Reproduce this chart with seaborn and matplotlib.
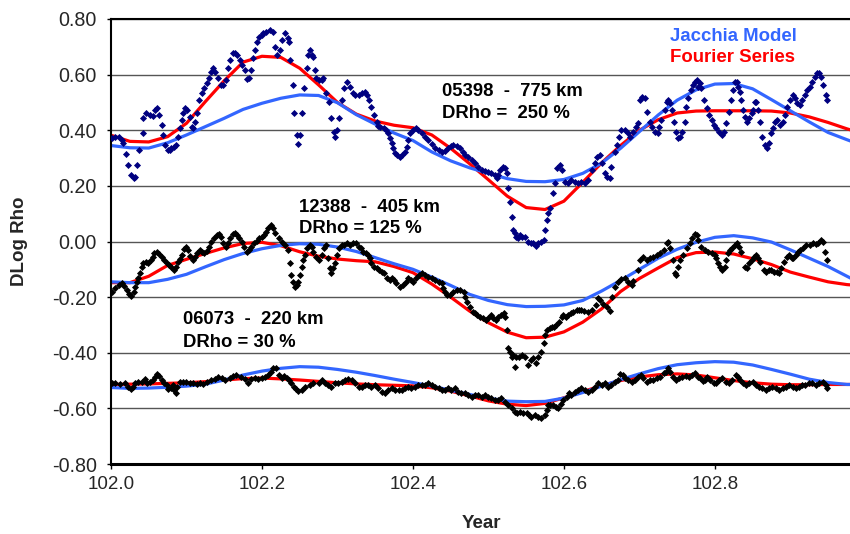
import matplotlib
matplotlib.use("Agg")
import matplotlib.pyplot as plt
import seaborn as sns

# ---------------- data ----------------
CURVE_YEAR = [102.000, 102.025, 102.050, 102.075, 102.100, 102.125, 102.150, 102.175, 102.200, 102.225,
              102.250, 102.275, 102.300, 102.325, 102.350, 102.375, 102.400, 102.425, 102.450, 102.475,
              102.500, 102.525, 102.550, 102.575, 102.600, 102.625, 102.650, 102.675, 102.700, 102.725,
              102.750, 102.775, 102.800, 102.825, 102.850, 102.875, 102.900, 102.925, 102.950, 102.975, 102.980]

TOP_JACCHIA = [0.345, 0.337, 0.336, 0.355, 0.383, 0.413, 0.443, 0.475, 0.497, 0.515,
               0.527, 0.525, 0.499, 0.456, 0.422, 0.390, 0.363, 0.322, 0.290, 0.265,
               0.245, 0.226, 0.216, 0.215, 0.223, 0.245, 0.282, 0.335, 0.395, 0.455,
               0.508, 0.545, 0.566, 0.568, 0.549, 0.510, 0.470, 0.430, 0.392, 0.366, 0.361]
TOP_FOURIER = [0.382, 0.360, 0.358, 0.377, 0.425, 0.503, 0.578, 0.645, 0.666, 0.662,
               0.623, 0.563, 0.500, 0.458, 0.433, 0.418, 0.409, 0.383, 0.335, 0.280,
               0.222, 0.163, 0.122, 0.115, 0.145, 0.213, 0.283, 0.345, 0.400, 0.438,
               0.462, 0.469, 0.470, 0.470, 0.470, 0.469, 0.462, 0.448, 0.428, 0.405, 0.401]

MID_JACCHIA = [-0.145, -0.148, -0.148, -0.136, -0.118, -0.091, -0.065, -0.043, -0.026, -0.014,
               -0.008, -0.010, -0.020, -0.036, -0.058, -0.080, -0.100, -0.128, -0.158, -0.190,
               -0.212, -0.227, -0.234, -0.233, -0.228, -0.212, -0.178, -0.140, -0.100, -0.060,
               -0.028, -0.003, 0.015, 0.021, 0.013, -0.002, -0.030, -0.060, -0.090, -0.125, -0.132]
MID_FOURIER = [-0.148, -0.148, -0.125, -0.086, -0.064, -0.043, -0.023, -0.007, -0.003, -0.015,
               -0.037, -0.053, -0.063, -0.069, -0.073, -0.090, -0.112, -0.153, -0.200, -0.250,
               -0.292, -0.326, -0.346, -0.344, -0.325, -0.290, -0.242, -0.180, -0.133, -0.095,
               -0.058, -0.040, -0.038, -0.045, -0.062, -0.083, -0.110, -0.128, -0.145, -0.155, -0.156]

BOT_JACCHIA = [-0.525, -0.528, -0.527, -0.524, -0.520, -0.513, -0.498, -0.480, -0.466, -0.456,
               -0.450, -0.452, -0.460, -0.470, -0.482, -0.495, -0.507, -0.520, -0.535, -0.550,
               -0.563, -0.574, -0.576, -0.575, -0.563, -0.543, -0.520, -0.497, -0.476, -0.457,
               -0.443, -0.436, -0.432, -0.434, -0.444, -0.460, -0.477, -0.495, -0.507, -0.514, -0.514]
BOT_FOURIER = [-0.514, -0.513, -0.512, -0.510, -0.508, -0.504, -0.498, -0.493, -0.491, -0.494,
               -0.498, -0.503, -0.508, -0.512, -0.515, -0.517, -0.519, -0.526, -0.538, -0.555,
               -0.573, -0.585, -0.590, -0.582, -0.562, -0.540, -0.518, -0.500, -0.487, -0.479,
               -0.476, -0.480, -0.490, -0.500, -0.508, -0.513, -0.515, -0.515, -0.514, -0.514, -0.514]

# 05398 - 775 km
TOP_YEAR = [102.001, 102.005, 102.010, 102.014, 102.016, 102.020, 102.023, 102.027, 102.030, 102.032,
            102.034, 102.037, 102.042, 102.043, 102.047, 102.052, 102.055, 102.058, 102.061, 102.064,
            102.067, 102.069, 102.072, 102.076, 102.078, 102.080, 102.083, 102.086, 102.089, 102.091,
            102.094, 102.096, 102.098, 102.101, 102.105, 102.107, 102.109, 102.111, 102.114, 102.117,
            102.120, 102.123, 102.127, 102.130, 102.132, 102.135, 102.138, 102.142, 102.146, 102.149,
            102.152, 102.155, 102.158, 102.161, 102.164, 102.167, 102.171, 102.174, 102.177, 102.180,
            102.183, 102.185, 102.188, 102.191, 102.193, 102.196, 102.200, 102.202, 102.206, 102.211,
            102.214, 102.217, 102.220, 102.224, 102.227, 102.230, 102.234, 102.236, 102.237, 102.241,
            102.242, 102.246, 102.248, 102.250, 102.253, 102.256, 102.259, 102.261, 102.264, 102.266,
            102.268, 102.270, 102.272, 102.276, 102.279, 102.281, 102.285, 102.289, 102.292, 102.295,
            102.297, 102.299, 102.302, 102.306, 102.309, 102.312, 102.317, 102.320, 102.323, 102.328,
            102.332, 102.336, 102.339, 102.342, 102.345, 102.349, 102.352, 102.354, 102.357, 102.361,
            102.364, 102.367, 102.370, 102.372, 102.374, 102.376, 102.379, 102.383, 102.386, 102.389,
            102.392, 102.394, 102.396, 102.400, 102.404, 102.407, 102.412, 102.416, 102.420, 102.425,
            102.429, 102.434, 102.438, 102.442, 102.447, 102.450, 102.453, 102.458, 102.462, 102.466,
            102.469, 102.473, 102.478, 102.482, 102.486, 102.491, 102.495, 102.500, 102.504, 102.509,
            102.511, 102.513, 102.515, 102.519, 102.522, 102.524, 102.526, 102.528, 102.531, 102.533,
            102.535, 102.537, 102.539, 102.542, 102.545, 102.548, 102.553, 102.556, 102.559, 102.563,
            102.566, 102.569, 102.573, 102.575, 102.577, 102.579, 102.581, 102.585, 102.588, 102.591,
            102.595, 102.597, 102.601, 102.606, 102.610, 102.615, 102.619, 102.623, 102.628, 102.632,
            102.637, 102.641, 102.644, 102.648, 102.651, 102.654, 102.657, 102.661, 102.663, 102.668,
            102.670, 102.673, 102.676, 102.681, 102.685, 102.688, 102.692, 102.695, 102.698, 102.701,
            102.704, 102.707, 102.710, 102.714, 102.717, 102.721, 102.724, 102.726, 102.729, 102.734,
            102.736, 102.738, 102.740, 102.743, 102.746, 102.749, 102.751, 102.754, 102.757, 102.760,
            102.762, 102.765, 102.768, 102.771, 102.774, 102.776, 102.778, 102.780, 102.782, 102.785,
            102.789, 102.792, 102.796, 102.799, 102.802, 102.806, 102.809, 102.812, 102.815, 102.819,
            102.822, 102.824, 102.826, 102.829, 102.831, 102.833, 102.835, 102.837, 102.840, 102.842,
            102.845, 102.849, 102.851, 102.853, 102.855, 102.857, 102.860, 102.863, 102.866, 102.869,
            102.872, 102.875, 102.877, 102.879, 102.882, 102.886, 102.890, 102.893, 102.896, 102.899,
            102.903, 102.906, 102.909, 102.913, 102.916, 102.919, 102.922, 102.926, 102.929, 102.932,
            102.935, 102.938, 102.940, 102.943, 102.947, 102.948]
TOP_VAL = [0.371, 0.377, 0.377, 0.365, 0.353, 0.315, 0.275, 0.239, 0.227, 0.233,
           0.275, 0.329, 0.389, 0.443, 0.461, 0.455, 0.451, 0.473, 0.479, 0.455,
           0.419, 0.383, 0.347, 0.329, 0.329, 0.335, 0.341, 0.347, 0.377, 0.407,
           0.437, 0.461, 0.479, 0.473, 0.449, 0.413, 0.407, 0.431, 0.461, 0.509,
           0.533, 0.551, 0.569, 0.587, 0.611, 0.623, 0.611, 0.587, 0.563, 0.563,
           0.581, 0.623, 0.653, 0.677, 0.677, 0.671, 0.653, 0.635, 0.617, 0.583,
           0.587, 0.617, 0.659, 0.689, 0.719, 0.737, 0.743, 0.749, 0.755, 0.761,
           0.755, 0.701, 0.671, 0.689, 0.725, 0.749, 0.731, 0.719, 0.653, 0.563,
           0.461, 0.383, 0.351, 0.383, 0.461, 0.551, 0.623, 0.671, 0.689, 0.671,
           0.665, 0.617, 0.587, 0.581, 0.581, 0.587, 0.533, 0.503, 0.443, 0.395,
           0.377, 0.401, 0.443, 0.509, 0.551, 0.575, 0.557, 0.533, 0.527, 0.527,
           0.533, 0.539, 0.527, 0.509, 0.485, 0.455, 0.431, 0.415, 0.413, 0.407,
           0.401, 0.389, 0.371, 0.353, 0.335, 0.317, 0.311, 0.305, 0.311, 0.323,
           0.341, 0.365, 0.389, 0.401, 0.407, 0.401, 0.389, 0.377, 0.365, 0.351,
           0.335, 0.329, 0.323, 0.327, 0.335, 0.344, 0.347, 0.344, 0.335, 0.323,
           0.311, 0.305, 0.293, 0.281, 0.269, 0.257, 0.255, 0.251, 0.247, 0.239,
           0.227, 0.239, 0.257, 0.267, 0.263, 0.245, 0.191, 0.143, 0.089, 0.041,
           0.029, 0.017, 0.012, 0.023, 0.017, 0.015, -0.001, -0.006, -0.006, -0.016,
           -0.006, -0.001, 0.005, 0.041, 0.077, 0.101, 0.119, 0.173, 0.209, 0.263,
           0.275, 0.257, 0.215, 0.209, 0.221, 0.215, 0.212, 0.215, 0.212, 0.221,
           0.257, 0.281, 0.305, 0.311, 0.281, 0.245, 0.233, 0.227, 0.269, 0.323,
           0.347, 0.377, 0.401, 0.401, 0.389, 0.377, 0.395, 0.413, 0.425, 0.509,
           0.521, 0.515, 0.467, 0.431, 0.413, 0.395, 0.389, 0.413, 0.437, 0.473,
           0.503, 0.509, 0.497, 0.473, 0.431, 0.395, 0.371, 0.377, 0.395, 0.431,
           0.485, 0.515, 0.545, 0.563, 0.575, 0.581, 0.557, 0.569, 0.551, 0.509,
           0.479, 0.455, 0.437, 0.419, 0.407, 0.395, 0.383, 0.395, 0.425, 0.467,
           0.509, 0.545, 0.575, 0.575, 0.557, 0.539, 0.509, 0.473, 0.449, 0.431,
           0.443, 0.461, 0.473, 0.503, 0.503, 0.473, 0.431, 0.377, 0.347, 0.335,
           0.353, 0.389, 0.407, 0.431, 0.437, 0.419, 0.431, 0.455, 0.485, 0.509,
           0.527, 0.515, 0.497, 0.491, 0.509, 0.527, 0.545, 0.557, 0.575, 0.593,
           0.605, 0.607, 0.593, 0.563, 0.527, 0.509]

# 12388 - 405 km
MID_YEAR = [102.001, 102.005, 102.010, 102.014, 102.017, 102.021, 102.024, 102.027, 102.030, 102.032,
            102.034, 102.036, 102.038, 102.041, 102.043, 102.046, 102.049, 102.053, 102.055, 102.057,
            102.061, 102.064, 102.067, 102.070, 102.074, 102.077, 102.080, 102.083, 102.086, 102.089,
            102.091, 102.094, 102.097, 102.099, 102.102, 102.105, 102.108, 102.111, 102.114, 102.118,
            102.120, 102.123, 102.127, 102.130, 102.133, 102.136, 102.140, 102.143, 102.146, 102.149,
            102.152, 102.155, 102.158, 102.161, 102.164, 102.167, 102.170, 102.173, 102.176, 102.180,
            102.183, 102.186, 102.189, 102.193, 102.196, 102.200, 102.203, 102.206, 102.208, 102.212,
            102.215, 102.217, 102.222, 102.226, 102.230, 102.235, 102.237, 102.239, 102.241, 102.244,
            102.246, 102.248, 102.250, 102.253, 102.255, 102.257, 102.259, 102.263, 102.266, 102.268,
            102.272, 102.275, 102.279, 102.282, 102.285, 102.288, 102.290, 102.292, 102.294, 102.297,
            102.300, 102.302, 102.306, 102.309, 102.312, 102.317, 102.321, 102.325, 102.328, 102.331,
            102.334, 102.338, 102.341, 102.343, 102.345, 102.348, 102.352, 102.355, 102.359, 102.362,
            102.365, 102.369, 102.372, 102.375, 102.378, 102.383, 102.387, 102.391, 102.394, 102.397,
            102.400, 102.404, 102.408, 102.412, 102.416, 102.420, 102.425, 102.429, 102.434, 102.438,
            102.440, 102.442, 102.445, 102.449, 102.453, 102.458, 102.462, 102.467, 102.469, 102.472,
            102.475, 102.479, 102.482, 102.485, 102.489, 102.493, 102.497, 102.500, 102.503, 102.506,
            102.510, 102.513, 102.516, 102.520, 102.522, 102.524, 102.526, 102.528, 102.531, 102.533,
            102.535, 102.537, 102.541, 102.544, 102.548, 102.553, 102.556, 102.559, 102.563, 102.566,
            102.569, 102.573, 102.575, 102.577, 102.581, 102.584, 102.587, 102.590, 102.594, 102.597,
            102.599, 102.603, 102.606, 102.609, 102.612, 102.617, 102.620, 102.623, 102.627, 102.632,
            102.637, 102.643, 102.645, 102.648, 102.652, 102.657, 102.661, 102.664, 102.668, 102.672,
            102.676, 102.681, 102.685, 102.690, 102.692, 102.698, 102.701, 102.705, 102.710, 102.714,
            102.718, 102.723, 102.727, 102.732, 102.736, 102.738, 102.740, 102.745, 102.747, 102.749,
            102.751, 102.754, 102.758, 102.763, 102.767, 102.770, 102.774, 102.776, 102.778, 102.782,
            102.787, 102.791, 102.796, 102.800, 102.802, 102.804, 102.807, 102.810, 102.813, 102.815,
            102.818, 102.820, 102.823, 102.826, 102.829, 102.832, 102.835, 102.840, 102.842, 102.845,
            102.849, 102.852, 102.854, 102.857, 102.860, 102.865, 102.868, 102.872, 102.875, 102.878,
            102.882, 102.885, 102.888, 102.891, 102.895, 102.898, 102.902, 102.904, 102.907, 102.910,
            102.913, 102.917, 102.921, 102.926, 102.930, 102.934, 102.937, 102.940, 102.943, 102.946,
            102.949]
MID_VAL = [-0.180, -0.168, -0.156, -0.150, -0.160, -0.174, -0.189, -0.196, -0.180, -0.163,
           -0.145, -0.133, -0.114, -0.090, -0.079, -0.073, -0.079, -0.066, -0.054, -0.043,
           -0.039, -0.046, -0.057, -0.066, -0.076, -0.085, -0.090, -0.102, -0.090, -0.073,
           -0.064, -0.049, -0.028, -0.021, -0.031, -0.052, -0.066, -0.057, -0.043, -0.031,
           -0.037, -0.043, -0.033, -0.019, -0.001, 0.011, 0.023, 0.027, 0.017, -0.006,
           -0.019, -0.006, 0.011, 0.027, 0.032, 0.023, 0.011, -0.001, -0.019, -0.036,
           -0.031, -0.019, -0.004, 0.003, 0.011, 0.017, 0.023, 0.035, 0.047, 0.059,
           0.047, 0.029, 0.012, -0.001, -0.013, -0.031, -0.078, -0.120, -0.145, -0.163,
           -0.156, -0.145, -0.120, -0.091, -0.067, -0.049, -0.024, -0.013, -0.019, -0.037,
           -0.055, -0.067, -0.049, -0.024, -0.013, -0.061, -0.097, -0.114, -0.097, -0.078,
           -0.049, -0.024, -0.013, -0.013, -0.007, -0.013, -0.007, -0.007, -0.019, -0.024,
           -0.037, -0.043, -0.049, -0.061, -0.078, -0.091, -0.097, -0.103, -0.109, -0.114,
           -0.132, -0.138, -0.132, -0.138, -0.150, -0.163, -0.156, -0.144, -0.133, -0.139,
           -0.144, -0.133, -0.120, -0.114, -0.120, -0.126, -0.133, -0.139, -0.144, -0.150,
           -0.168, -0.180, -0.192, -0.192, -0.180, -0.174, -0.174, -0.180, -0.198, -0.216,
           -0.234, -0.252, -0.258, -0.264, -0.270, -0.276, -0.282, -0.276, -0.264, -0.276,
           -0.282, -0.270, -0.264, -0.258, -0.270, -0.318, -0.384, -0.396, -0.414, -0.408,
           -0.450, -0.414, -0.414, -0.408, -0.414, -0.444, -0.426, -0.420, -0.438, -0.414,
           -0.396, -0.366, -0.336, -0.318, -0.312, -0.306, -0.306, -0.300, -0.288, -0.270,
           -0.264, -0.270, -0.264, -0.258, -0.252, -0.246, -0.246, -0.246, -0.250, -0.252,
           -0.246, -0.228, -0.204, -0.212, -0.224, -0.234, -0.250, -0.200, -0.165, -0.146,
           -0.136, -0.132, -0.145, -0.158, -0.142, -0.102, -0.066, -0.054, -0.066, -0.060,
           -0.054, -0.049, -0.043, -0.031, -0.006, 0.000, -0.025, -0.066, -0.114, -0.120,
           -0.090, -0.066, -0.049, -0.025, -0.006, 0.011, 0.027, 0.023, 0.005, -0.019,
           -0.031, -0.037, -0.043, -0.049, -0.061, -0.079, -0.090, -0.102, -0.090, -0.066,
           -0.043, -0.031, -0.025, -0.013, -0.006, -0.019, -0.037, -0.090, -0.096, -0.079,
           -0.066, -0.054, -0.049, -0.061, -0.072, -0.102, -0.108, -0.102, -0.102, -0.108,
           -0.108, -0.114, -0.096, -0.072, -0.054, -0.049, -0.061, -0.061, -0.049, -0.037,
           -0.031, -0.025, -0.013, -0.013, -0.006, -0.008, -0.006, 0.005, 0.000, -0.037,
           -0.066]

# 06073 - 220 km
BOT_YEAR = [102.001, 102.005, 102.012, 102.019, 102.023, 102.026, 102.029, 102.032, 102.036, 102.041,
            102.045, 102.048, 102.052, 102.055, 102.058, 102.061, 102.064, 102.067, 102.070, 102.074,
            102.076, 102.079, 102.082, 102.083, 102.086, 102.088, 102.091, 102.096, 102.100, 102.105,
            102.109, 102.114, 102.118, 102.122, 102.127, 102.132, 102.138, 102.142, 102.147, 102.151,
            102.158, 102.162, 102.166, 102.172, 102.177, 102.182, 102.186, 102.191, 102.195, 102.200,
            102.204, 102.208, 102.212, 102.215, 102.219, 102.222, 102.226, 102.229, 102.233, 102.236,
            102.239, 102.242, 102.245, 102.248, 102.253, 102.257, 102.264, 102.268, 102.275, 102.279,
            102.283, 102.288, 102.292, 102.297, 102.301, 102.306, 102.310, 102.314, 102.319, 102.323,
            102.328, 102.332, 102.336, 102.341, 102.345, 102.350, 102.354, 102.359, 102.363, 102.367,
            102.372, 102.376, 102.381, 102.385, 102.389, 102.394, 102.398, 102.403, 102.407, 102.412,
            102.416, 102.420, 102.425, 102.429, 102.434, 102.438, 102.442, 102.447, 102.451, 102.456,
            102.460, 102.464, 102.469, 102.473, 102.478, 102.482, 102.486, 102.491, 102.495, 102.500,
            102.504, 102.509, 102.513, 102.517, 102.522, 102.526, 102.531, 102.535, 102.538, 102.542,
            102.546, 102.551, 102.554, 102.557, 102.562, 102.566, 102.570, 102.575, 102.577, 102.579,
            102.582, 102.586, 102.589, 102.592, 102.596, 102.599, 102.604, 102.607, 102.610, 102.615,
            102.619, 102.623, 102.628, 102.632, 102.637, 102.641, 102.645, 102.650, 102.654, 102.659,
            102.663, 102.668, 102.672, 102.674, 102.678, 102.681, 102.685, 102.690, 102.694, 102.698,
            102.702, 102.705, 102.710, 102.714, 102.718, 102.723, 102.727, 102.732, 102.735, 102.738,
            102.741, 102.745, 102.748, 102.753, 102.757, 102.762, 102.766, 102.770, 102.774, 102.777,
            102.780, 102.784, 102.787, 102.790, 102.794, 102.799, 102.802, 102.806, 102.810, 102.815,
            102.819, 102.823, 102.828, 102.831, 102.833, 102.837, 102.841, 102.845, 102.850, 102.854,
            102.859, 102.863, 102.868, 102.872, 102.876, 102.881, 102.885, 102.890, 102.894, 102.898,
            102.903, 102.907, 102.912, 102.916, 102.920, 102.925, 102.929, 102.934, 102.938, 102.943,
            102.947, 102.949]
BOT_VAL = [-0.510, -0.508, -0.513, -0.510, -0.522, -0.532, -0.522, -0.510, -0.504, -0.504,
           -0.496, -0.508, -0.504, -0.498, -0.486, -0.477, -0.484, -0.498, -0.510, -0.516,
           -0.532, -0.528, -0.516, -0.534, -0.546, -0.522, -0.504, -0.504, -0.504, -0.510,
           -0.510, -0.513, -0.510, -0.513, -0.504, -0.498, -0.496, -0.486, -0.492, -0.498,
           -0.492, -0.484, -0.480, -0.486, -0.496, -0.510, -0.496, -0.492, -0.496, -0.492,
           -0.486, -0.480, -0.468, -0.456, -0.456, -0.480, -0.492, -0.484, -0.492, -0.498,
           -0.510, -0.522, -0.532, -0.538, -0.534, -0.522, -0.516, -0.510, -0.508, -0.498,
           -0.508, -0.516, -0.522, -0.510, -0.510, -0.504, -0.498, -0.496, -0.498, -0.510,
           -0.522, -0.522, -0.516, -0.516, -0.522, -0.516, -0.528, -0.540, -0.546, -0.534,
           -0.528, -0.534, -0.534, -0.534, -0.528, -0.522, -0.528, -0.522, -0.516, -0.516,
           -0.516, -0.510, -0.516, -0.522, -0.528, -0.534, -0.534, -0.528, -0.534, -0.528,
           -0.540, -0.546, -0.546, -0.552, -0.558, -0.552, -0.552, -0.558, -0.552, -0.558,
           -0.564, -0.570, -0.570, -0.564, -0.576, -0.588, -0.600, -0.612, -0.618, -0.612,
           -0.615, -0.618, -0.624, -0.630, -0.624, -0.630, -0.636, -0.624, -0.606, -0.588,
           -0.588, -0.588, -0.594, -0.600, -0.585, -0.570, -0.558, -0.546, -0.552, -0.540,
           -0.534, -0.528, -0.534, -0.540, -0.534, -0.522, -0.510, -0.516, -0.510, -0.522,
           -0.516, -0.504, -0.498, -0.477, -0.480, -0.492, -0.498, -0.504, -0.498, -0.486,
           -0.480, -0.492, -0.504, -0.498, -0.498, -0.492, -0.486, -0.474, -0.468, -0.456,
           -0.468, -0.486, -0.498, -0.492, -0.486, -0.484, -0.486, -0.480, -0.474, -0.486,
           -0.492, -0.500, -0.498, -0.486, -0.498, -0.510, -0.510, -0.498, -0.492, -0.504,
           -0.510, -0.498, -0.480, -0.486, -0.498, -0.510, -0.516, -0.510, -0.504, -0.516,
           -0.522, -0.528, -0.534, -0.528, -0.522, -0.528, -0.534, -0.528, -0.522, -0.516,
           -0.522, -0.528, -0.522, -0.516, -0.516, -0.510, -0.510, -0.516, -0.510, -0.504,
           -0.516, -0.528]

Y_TICKS = [-0.8, -0.6, -0.4, -0.2, 0.0, 0.2, 0.4, 0.6, 0.8]
X_TICKS = [102.0, 102.2, 102.4, 102.6, 102.8]

# ---------------- style ----------------
sns.set_style("white")
plt.rcParams['font.family'] = ['Liberation Sans', 'DejaVu Sans']
plt.rcParams['axes.unicode_minus'] = False

BLUE = '#3366FF'
RED = '#FF0000'
NAVY = '#000080'

fig = plt.figure(figsize=(8.5, 5.34), dpi=100)
ax = fig.add_axes([111 / 850, 70 / 534, 739 / 850, 445 / 534])

for four in (TOP_FOURIER, MID_FOURIER, BOT_FOURIER):
    sns.lineplot(x=CURVE_YEAR, y=four, color=RED, linewidth=2.3, ax=ax,
                 estimator=None, sort=False, legend=False, zorder=2,
                 solid_joinstyle='round', solid_capstyle='round')
for jac in (TOP_JACCHIA, MID_JACCHIA, BOT_JACCHIA):
    sns.lineplot(x=CURVE_YEAR, y=jac, color=BLUE, linewidth=2.3, ax=ax,
                 estimator=None, sort=False, legend=False, zorder=2,
                 solid_joinstyle='round', solid_capstyle='round')

for xs, ys, col in ((TOP_YEAR, TOP_VAL, NAVY), (MID_YEAR, MID_VAL, 'black'),
                    (BOT_YEAR, BOT_VAL, 'black')):
    sns.scatterplot(x=xs, y=ys, marker='D', s=13, color=col, linewidth=0,
                    ax=ax, legend=False, zorder=3)

ax.set_xlim(102.0, 102.979)
ax.set_ylim(-0.8, 0.8)
ax.set_xticks(X_TICKS)
ax.set_xticklabels([f"{v:.1f}" for v in X_TICKS])
ax.set_yticks(Y_TICKS)
ax.set_yticklabels([f"{v:.2f}" for v in Y_TICKS])
ax.set_xlabel("")
ax.set_ylabel("")

ax.yaxis.grid(True, color='#555555', linewidth=1.0)
ax.xaxis.grid(False)
ax.set_axisbelow(True)

for side in ('top', 'left'):
    ax.spines[side].set_visible(True)
    ax.spines[side].set_color('black')
    ax.spines[side].set_linewidth(1.5)
ax.spines['bottom'].set_color('black')
ax.spines['bottom'].set_linewidth(2.2)
ax.spines['right'].set_visible(False)

ax.tick_params(axis='y', direction='out', length=3, width=1, color='black',
               labelsize=14.2, pad=7, left=True)
ax.tick_params(axis='x', direction='out', length=3.5, width=1, color='black',
               labelsize=13.5, pad=5, bottom=True)

txt = dict(fontsize=13.3, fontweight='bold', ha='left', va='center', color='black')
ax.text(102.438, 0.538, "05398  -  775 km", **txt)
ax.text(102.438, 0.459, "DRho =  250 %", **txt)
ax.text(102.249, 0.124, "12388  -  405 km", **txt)
ax.text(102.249, 0.045, "DRho = 125 %", **txt)
ax.text(102.096, -0.282, "06073  -  220 km", **txt)
ax.text(102.096, -0.362, "DRho = 30 %", **txt)

ax.text(102.740, 0.737, "Jacchia Model", fontsize=13.4, fontweight='bold',
        ha='left', va='center', color=BLUE)
ax.text(102.740, 0.660, "Fourier Series", fontsize=13.4, fontweight='bold',
        ha='left', va='center', color=RED)

fig.text(20 / 850, 1 - 241.5 / 534, "DLog Rho", rotation=90, ha='center', va='center',
         fontsize=13.5, fontweight='bold')
fig.text(481 / 850, 1 - 523 / 534, "Year", ha='center', va='center',
         fontsize=13.5, fontweight='bold')

fig.savefig('out.png', dpi=100)
